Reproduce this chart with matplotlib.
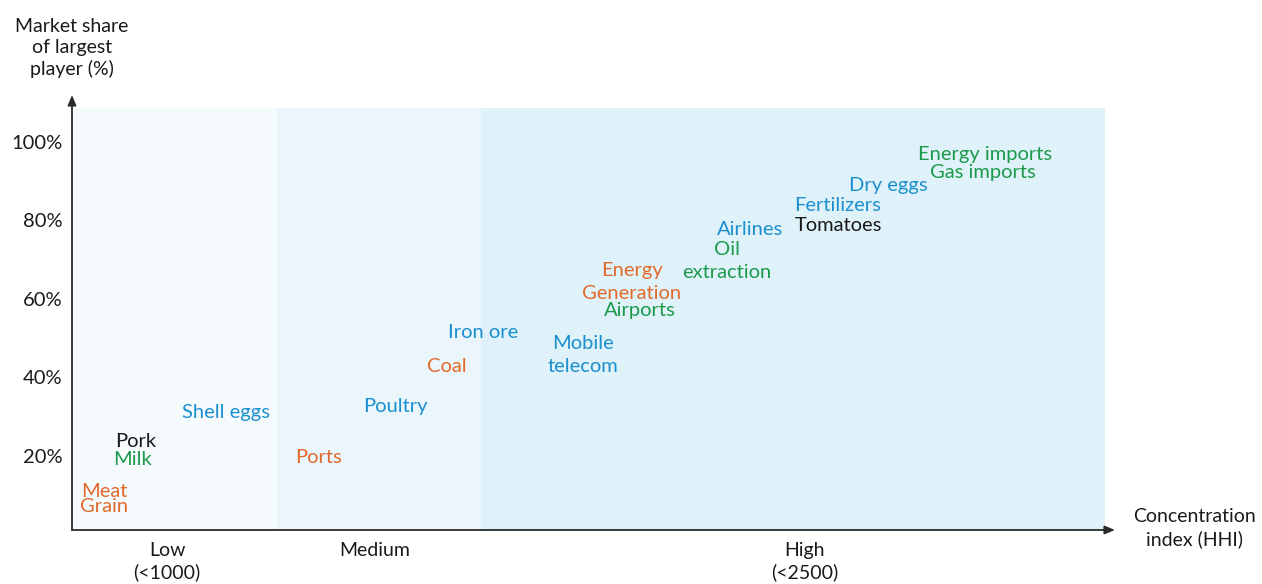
import matplotlib.pyplot as plt

# labels, position (HHI-like x, market share %), colour group
labels = ["Meat", "Grain", "Pork", "Milk", "Shell eggs", "Ports", "Poultry", "Coal",
          "Iron ore", "Mobile\ntelecom", "Energy\nGeneration", "Airports", "Oil\nextraction",
          "Airlines", "Tomatoes", "Fertilizers", "Dry eggs", "Energy imports", "Gas imports"]
hhi = [156, 156, 313, 298, 753, 1203, 1579, 1834, 2010, 2499, 2738, 2778, 3203,
       3315, 3746, 3741, 3990, 4465, 4455]
share = [10.7, 6.9, 23.5, 18.9, 31.1, 19.4, 32.6, 42.8, 51.5, 45.7, 64.3, 56.9, 69.6,
         77.8, 78.6, 83.7, 88.8, 96.9, 92.1]
group = ["orange", "orange", "black", "green", "blue", "orange", "blue", "orange",
         "blue", "blue", "orange", "green", "green", "blue", "black", "blue", "blue",
         "green", "green"]

bands = [(0, 1000), (1000, 2000), (2000, 5050)]
band_names = ["Low\n(<1000)", "Medium", "High\n(<2500)"]
band_label_x = [465, 1482, 3584]
yticks = [20, 40, 60, 80, 100]

colors = {"orange": "#e2692c", "green": "#1b9a4c", "blue": "#1c8fcf", "black": "#1a1a1a"}
band_colors = ["#f5fafd", "#eaf6fb", "#dff2f9"]

plt.rcParams["font.family"] = ["Lato", "DejaVu Sans"]

fig = plt.figure(figsize=(12.62, 5.84), dpi=100)
ax = fig.add_axes([72 / 1262, 54 / 584, 1043 / 1262, 435 / 584])
ax.set_xlim(0, 5100)
ax.set_ylim(1, 112)

for (x0, x1), c in zip(bands, band_colors):
    ax.axvspan(x0, x1, ymin=0, ymax=(108.7 - 1) / 111, color=c, lw=0, zorder=0)

for lab, x, y, g in zip(labels, hhi, share, group):
    ax.text(x, y, lab, color=colors[g], fontsize=14.5, ha="center", va="center",
            linespacing=1.45, zorder=3)

for s in ax.spines.values():
    s.set_visible(False)
ax.set_xticks([])
ax.set_yticks(yticks)
ax.set_yticklabels([f"{t}%" for t in yticks], fontsize=14.5, color="#1a1a1a")
ax.tick_params(axis="y", length=0, pad=7)

arrow = dict(arrowstyle="-|>,head_length=0.6,head_width=0.25", color="#2b2b2b", lw=1.3,
             shrinkA=0, shrinkB=0)
ax.annotate("", xy=(0, 1), xytext=(0, 0), xycoords="axes fraction", arrowprops=arrow)
ax.annotate("", xy=(1, 0), xytext=(0, 0), xycoords="axes fraction", arrowprops=arrow)

for name, x in zip(band_names, band_label_x):
    ax.text(x, -2.0, name, ha="center", va="top", fontsize=14, color="#1a1a1a",
            linespacing=1.3)

fig.text(72 / 1262, 1 - 48 / 584, "Market share\nof largest\nplayer (%)", ha="center",
         va="center", fontsize=14, color="#1a1a1a", linespacing=1.3)
fig.text(1195 / 1262, 1 - 528 / 584, "Concentration\nindex (HHI)", ha="center",
         va="center", fontsize=14, color="#1a1a1a", linespacing=1.3)

fig.savefig("out.png", dpi=100)
